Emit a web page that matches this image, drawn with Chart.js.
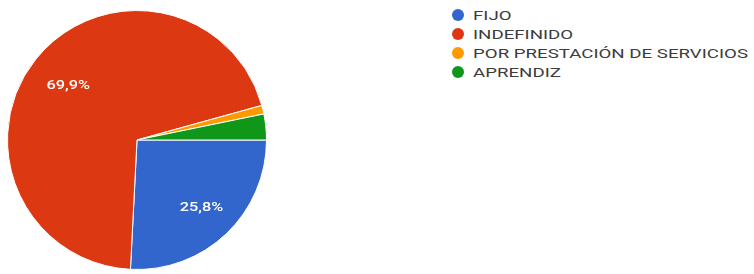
<!DOCTYPE html>
<html>
<head>
<meta charset="utf-8">
<script src="https://cdn.jsdelivr.net/npm/chart.js@4"></script>
<style>
  html, body { margin: 0; padding: 0; background: #fff; }
  body { width: 754px; height: 274px; position: relative; overflow: hidden; font-family: Roboto, Arial, sans-serif; }
  #pieBox { position: absolute; left: 7px; top: 10px; width: 260px; height: 260px; }
  #legend { position: absolute; left: 452px; top: 6px; margin: 0; padding: 0; list-style: none; }
  #legend li { height: 19px; line-height: 19px; font-size: 12.5px; color: #3c3c3c; white-space: nowrap; }
  #legend span.dot { display: inline-block; width: 12px; height: 12px; border-radius: 50%; vertical-align: -1px; margin-right: 9px; }
  #legend span.txt { display: inline-block; transform-origin: 0 50%; }
</style>
</head>
<body>
<div id="pieBox"><canvas id="contract_pie"></canvas></div>
<ul id="legend"></ul>
<script>
var labels = ['FIJO', 'INDEFINIDO', 'POR PRESTACIÓN DE SERVICIOS', 'APRENDIZ'];
var counts = [24, 65, 1, 3];
var colors = ['#3366cc', '#dc3912', '#ff9900', '#109618'];

var total = counts.reduce(function (a, b) { return a + b; }, 0);

// slice percentage labels, like google forms shows them
var sliceLabels = {
    id: 'sliceLabels',
    afterDatasetsDraw: function (chart) {
        var ctx = chart.ctx;
        var meta = chart.getDatasetMeta(0);
        ctx.save();
        ctx.fillStyle = '#fff';
        ctx.font = '500 13px Roboto, Arial, sans-serif';
        ctx.textAlign = 'center';
        ctx.textBaseline = 'middle';
        meta.data.forEach(function (arc, i) {
            var pct = counts[i] / total * 100;
            if (pct < 10) return; // small slices get no label
            var mid = (arc.startAngle + arc.endAngle) / 2;
            var r = arc.outerRadius * 0.7;
            var x = arc.x + Math.cos(mid) * r + 2;
            var y = arc.y + Math.sin(mid) * r + 2;
            ctx.save();
            ctx.translate(x, y);
            ctx.scale(1.25, 1);
            ctx.fillText(pct.toFixed(1).replace('.', ',') + '%', 0, 0);
            ctx.restore();
        });
        ctx.restore();
    }
};

var ctx = document.getElementById('contract_pie').getContext('2d');
var myChart = new Chart(ctx, {
    type: 'pie',
    data: {
        labels: labels,
        datasets: [
            {
                data: counts,
                backgroundColor: colors,
                borderColor: '#fff',
                borderWidth: 1
            }
        ]
    },
    options: {
        responsive: true,
        maintainAspectRatio: false,
        animation: false,
        rotation: 90, // first slice starts at 3 o'clock
        plugins: {
            legend: { display: false },
            tooltip: { enabled: false }
        }
    },
    plugins: [sliceLabels]
});

// legend on the right
var legend = document.getElementById('legend');
labels.forEach(function (label, i) {
    var li = document.createElement('li');
    var dot = document.createElement('span');
    dot.className = 'dot';
    dot.style.background = colors[i];
    li.appendChild(dot);
    var txt = document.createElement('span');
    txt.className = 'txt';
    txt.textContent = label;
    li.appendChild(txt);
    legend.appendChild(li);
});

// the reference text is drawn wide, stretch it so the longest label is ~275px
var longest = legend.querySelectorAll('.txt')[2];
var w = longest.getBoundingClientRect().width;
var sx = 275 / w;
legend.querySelectorAll('.txt').forEach(function (el) {
    el.style.transform = 'scaleX(' + sx + ')';
});
</script>
</body>
</html>
